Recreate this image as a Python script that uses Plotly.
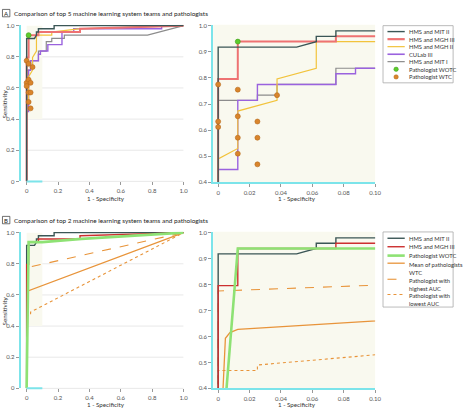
import plotly.graph_objects as go

W, H = 468, 416

# ---------------- data ----------------
# Panel A ROC curves (x = 1 - specificity, y = sensitivity)
mit2_x = [0, 0, 0.05, 0.0625, 0.0625, 0.075, 0.075, 0.175, 0.175, 1.0]
mit2_y = [0, 0.918, 0.918, 0.939, 0.959, 0.959, 0.98, 0.98, 1.0, 1.0]

mgh3_x = [0, 0, 0.0125, 0.0125, 0.075, 0.075, 0.34, 0.34, 1.0]
mgh3_y = [0, 0.796, 0.796, 0.939, 0.939, 0.959, 0.959, 0.98, 1.0]

mgh2_x = [0, 0, 0.0125, 0.0125, 0.0375, 0.0375, 0.0625, 0.0625, 0.16, 0.16, 0.33, 1.0]
mgh2_y = [0, 0.49, 0.53, 0.673, 0.714, 0.796, 0.837, 0.939, 0.939, 0.959, 0.98, 1.0]

cul3_x = [0, 0, 0.0125, 0.0125, 0.025, 0.025, 0.075, 0.075, 0.0875, 0.0875,
          0.135, 0.135, 0.225, 0.225, 0.3, 0.3, 0.86, 0.86, 1.0]
cul3_y = [0, 0.449, 0.449, 0.714, 0.714, 0.775, 0.775, 0.816, 0.816, 0.837,
          0.837, 0.878, 0.878, 0.959, 0.959, 0.98, 0.98, 1.0, 1.0]

mit1_x = [0, 0, 0.025, 0.025, 0.0375, 0.0375, 0.075, 0.075, 0.125, 0.125,
          0.16, 0.16, 0.24, 0.24, 0.77, 1.0]
mit1_y = [0, 0.714, 0.714, 0.734, 0.734, 0.775, 0.775, 0.837, 0.837, 0.898,
          0.898, 0.918, 0.918, 0.939, 0.939, 1.0]

wotc_pt_x = [0.0125]
wotc_pt_y = [0.939]

wtc_x = [0, 0.0125, 0.0375, 0, 0, 0.0125, 0.025, 0.0125, 0.025, 0.0125, 0.025]
wtc_y = [0.775, 0.755, 0.734, 0.633, 0.612, 0.653, 0.633, 0.571, 0.571, 0.510, 0.469]

# Panel B extra curves
wotc_x = [0, 0.0125, 0.1, 0.35, 1.0]
wotc_y = [0, 0.939, 0.939, 0.96, 1.0]

mean_x = [0, 0.0046, 0.0075, 0.0125, 1.0]
mean_y = [0, 0.593, 0.615, 0.627, 1.0]

high_x = [0, 0, 1.0]
high_y = [0, 0.775, 1.0]

low_x = [0, 0, 0.025, 0.025, 1.0]
low_y = [0, 0.469, 0.469, 0.49, 1.0]

full_ticks = [0, 0.2, 0.4, 0.6, 0.8, 1.0]
full_ticktext = ["0", "0.2", "0.4", "0.6", "0.8", "1.0"]
zoom_xticks = [0, 0.02, 0.04, 0.06, 0.08, 0.10]
zoom_xticktext = ["0", "0.02", "0.04", "0.06", "0.08", "0.10"]
zoom_yticks = [0.4, 0.5, 0.6, 0.7, 0.8, 0.9, 1.0]
zoom_yticktext = ["0.4", "0.5", "0.6", "0.7", "0.8", "0.9", "1.0"]

title_a = "Comparison of top 5 machine learning system teams and pathologists"
title_b = "Comparison of top 2 machine learning system teams and pathologists"

legend_a = ["HMS and MIT II", "HMS and MGH III", "HMS and MGH II", "CULab III",
            "HMS and MIT I", "Pathologist WOTC", "Pathologist WTC"]
legend_b = ["HMS and MIT II", "HMS and MGH III", "Pathologist WOTC",
            "Mean of pathologists<br>WTC", "Pathologist with<br>highest AUC",
            "Pathologist with<br>lowest AUC"]

# ---------------- styles ----------------
FONT = "Lato"
CYAN = "#7ce4ea"
CREAM = "#f9f9ef"
C_MIT2 = "#3b5656"
C_MGH3_A = "#ee7272"
C_MGH3_B = "#cc2f2f"
C_MGH2 = "#f2c33c"
C_CUL = "#9a62de"
C_MIT1 = "#8c8c8c"
C_GREEN = "#8ee274"
C_ORANGE = "#e8943a"
C_DOT = "#d9852c"
C_DOT_EDGE = "#b56a1c"
C_WOTC = "#5ccc2c"

fig = go.Figure()


def px(x):
    return x / W


def py(y):
    return 1 - y / H


def line(xs, ys, ax, color, width, dash="solid", opacity=1.0):
    fig.add_trace(go.Scatter(x=xs, y=ys, mode="lines", xaxis="x" + ax, yaxis="y" + ax,
                             line=dict(color=color, width=width, dash=dash),
                             opacity=opacity, showlegend=False, hoverinfo="skip"))


def pts(xs, ys, ax, color, edge, size):
    fig.add_trace(go.Scatter(x=xs, y=ys, mode="markers", xaxis="x" + ax, yaxis="y" + ax,
                             marker=dict(color=color, size=size, line=dict(color=edge, width=0.6)),
                             showlegend=False, hoverinfo="skip", cliponaxis=False))


# Panel A: axes "" (full) and "2" (zoom)
for ax in ["", "2"]:
    line(mit1_x, mit1_y, ax, C_MIT1, 1.2)
    line(cul3_x, cul3_y, ax, C_CUL, 1.4)
    line(mgh2_x, mgh2_y, ax, C_MGH2, 1.2)
    line(mgh3_x, mgh3_y, ax, C_MGH3_A, 2.0)
    line(mit2_x, mit2_y, ax, C_MIT2, 1.4)
    pts(wtc_x, wtc_y, ax, C_DOT, C_DOT_EDGE, 5)
    pts(wotc_pt_x, wotc_pt_y, ax, C_WOTC, "#3f9a1a", 5)

# Panel B: axes "3" (full) and "4" (zoom)
for ax in ["3", "4"]:
    line(low_x, low_y, ax, C_ORANGE, 1.1, dash="dot")
    line(high_x, high_y, ax, C_ORANGE, 1.1, dash="dash")
    line(mean_x, mean_y, ax, C_ORANGE, 1.3)
    line(mit2_x, mit2_y, ax, C_MIT2, 1.4)
    line(mgh3_x, mgh3_y, ax, C_MGH3_B, 1.4)
    line(wotc_x, wotc_y, ax, C_GREEN, 2.6)

tickfont = dict(family=FONT, size=6, color="#555")


def xax(dom, rng, tv, tt, showline):
    return dict(domain=[px(dom[0]), px(dom[1])], range=rng, tickvals=tv, ticktext=tt,
                ticks="outside", ticklen=3, tickwidth=0.8, tickcolor="#999",
                tickfont=tickfont, showgrid=False, zeroline=False,
                showline=showline, linecolor=CYAN, linewidth=2, fixedrange=True)


def yax(dom, rng, tv, tt):
    return dict(domain=[py(dom[0]), py(dom[1])], range=rng, tickvals=tv, ticktext=tt,
                ticks="outside", ticklen=3, tickwidth=0.8, tickcolor="#999",
                tickfont=tickfont, showgrid=False, zeroline=False,
                showline=True, linecolor=CYAN, linewidth=2, fixedrange=True)


full_xr = [-6 / 159, 1.0]
zoom_xr = [-5 / 1590, 0.1]
full_yr = [0, 1 + 1 / 158]
zoom_yr = [0.4, 1 + 1 / 265]

layout = dict(
    width=W, height=H, margin=dict(l=0, r=0, t=0, b=0),
    paper_bgcolor="white", plot_bgcolor="rgba(0,0,0,0)",
    font=dict(family=FONT, size=6, color="#333"),
    xaxis=xax((21, 186), full_xr, full_ticks, full_ticktext, False),
    yaxis=yax((181, 22), full_yr, full_ticks, full_ticktext),
    xaxis2=xax((216, 380), zoom_xr, zoom_xticks, zoom_xticktext, True),
    yaxis2=yax((182, 22), zoom_yr, zoom_yticks, zoom_yticktext),
    xaxis3=xax((21, 186), full_xr, full_ticks, full_ticktext, False),
    yaxis3=yax((391, 232), full_yr, full_ticks, full_ticktext),
    xaxis4=xax((216, 380), zoom_xr, zoom_xticks, zoom_xticktext, True),
    yaxis4=yax((391, 232), zoom_yr, zoom_yticks, zoom_yticktext),
)
layout["xaxis"]["anchor"] = "y"
layout["yaxis"]["anchor"] = "x"
layout["xaxis2"]["anchor"] = "y2"
layout["yaxis2"]["anchor"] = "x2"
layout["xaxis3"]["anchor"] = "y3"
layout["yaxis3"]["anchor"] = "x3"
layout["xaxis4"]["anchor"] = "y4"
layout["yaxis4"]["anchor"] = "x4"
fig.update_layout(**layout)

shapes = []
annotations = []

# backgrounds of zoom plots
for ax in ["2", "4"]:
    shapes.append(dict(type="rect", xref="x%s domain" % ax, yref="y%s domain" % ax,
                       x0=0, x1=1, y0=0, y1=1, fillcolor=CREAM, line=dict(width=0), layer="below"))

# gridlines and zoom region in full plots
for ax, ybot in [("", 181), ("3", 391)]:
    for g in [0.2, 0.4, 0.6, 0.8]:
        shapes.append(dict(type="line", xref="x" + ax, yref="y" + ax,
                           x0=0, x1=1, y0=g, y1=g, line=dict(color="#e2e2e2", width=0.8), layer="below"))
    shapes.append(dict(type="line", xref="x" + ax, yref="paper", x0=0, x1=1,
                       y0=py(ybot), y1=py(ybot), line=dict(color="#e2e2e2", width=0.8), layer="below"))
    shapes.append(dict(type="rect", xref="x" + ax, yref="y" + ax, x0=0, x1=0.1, y0=0.4, y1=1.0,
                       fillcolor=CREAM, line=dict(width=0), layer="below"))
    shapes.append(dict(type="line", xref="x" + ax, yref="paper", x0=0, x1=0.1,
                       y0=py(ybot), y1=py(ybot), line=dict(color=CYAN, width=2), layer="above"))

# panel labels and titles
for lab, ytop, title in [("A", 6.5, title_a), ("B", 216.5, title_b)]:
    shapes.append(dict(type="rect", xref="paper", yref="paper", x0=px(2.5), x1=px(10),
                       y0=py(ytop + 7.5), y1=py(ytop), line=dict(color="#333", width=0.7)))
    annotations.append(dict(x=px(6.3), y=py(ytop + 3.9), xref="paper", yref="paper", text=lab,
                            showarrow=False, xanchor="center", yanchor="middle",
                            font=dict(family=FONT, size=6, color="#222")))
    annotations.append(dict(x=px(12), y=py(ytop + 3.9), xref="paper", yref="paper", text=title,
                            showarrow=False, xanchor="left", yanchor="middle",
                            font=dict(family=FONT, size=6.4, color="#222")))

# axis titles
for xc, yc in [(107, 198), (301, 198), (107, 407.5), (301, 407.5)]:
    annotations.append(dict(x=px(xc), y=py(yc), xref="paper", yref="paper", text="1 - Specificity",
                            showarrow=False, xanchor="center", yanchor="middle",
                            font=dict(family=FONT, size=6.2, color="#333")))
for yc in [102, 312]:
    annotations.append(dict(x=px(5), y=py(yc), xref="paper", yref="paper", text="Sensitivity",
                            showarrow=False, xanchor="center", yanchor="middle", textangle=-90,
                            font=dict(family=FONT, size=6.2, color="#333")))

# legend A
shapes.append(dict(type="rect", xref="paper", yref="paper", x0=px(388), x1=px(459),
                   y0=py(81), y1=py(23), line=dict(color="#aaa", width=0.8), fillcolor="white"))
leg_a_y = [29, 36.7, 44.3, 52, 59.5, 67.2, 75]
leg_a_style = [(C_MIT2, 1.4), (C_MGH3_A, 2.2), (C_MGH2, 1.2), (C_CUL, 1.6), (C_MIT1, 1.2)]
for i, name in enumerate(legend_a):
    yy = leg_a_y[i]
    if i < 5:
        c, w = leg_a_style[i]
        shapes.append(dict(type="line", xref="paper", yref="paper", x0=px(392.5), x1=px(410),
                           y0=py(yy), y1=py(yy), line=dict(color=c, width=w)))
    else:
        c, e = (C_WOTC, "#3f9a1a") if i == 5 else (C_DOT, C_DOT_EDGE)
        shapes.append(dict(type="circle", xref="paper", yref="paper", x0=px(399), x1=px(403.5),
                           y0=py(yy + 2.2), y1=py(yy - 2.2), fillcolor=c, line=dict(color=e, width=0.5)))
    annotations.append(dict(x=px(412), y=py(yy), xref="paper", yref="paper", text=name,
                            showarrow=False, xanchor="left", yanchor="middle",
                            font=dict(family=FONT, size=5.8, color="#333")))

# legend B
shapes.append(dict(type="rect", xref="paper", yref="paper", x0=px(388), x1=px(459),
                   y0=py(308.5), y1=py(232.3), line=dict(color="#aaa", width=0.8), fillcolor="white"))
leg_b_y = [238.7, 247.3, 256.3, 264, 280.3, 295.7]
leg_b_style = [(C_MIT2, 1.4, "solid"), (C_MGH3_B, 1.4, "solid"), (C_GREEN, 2.6, "solid"),
               (C_ORANGE, 1.3, "solid"), (C_ORANGE, 1.1, "dash"), (C_ORANGE, 1.1, "dot")]
for i, name in enumerate(legend_b):
    yy = leg_b_y[i]
    c, w, d = leg_b_style[i]
    shapes.append(dict(type="line", xref="paper", yref="paper", x0=px(392.5), x1=px(410),
                       y0=py(yy), y1=py(yy), line=dict(color=c, width=w, dash=d)))
    if "<br>" in name:
        annotations.append(dict(x=px(412), y=py(yy - 4.0), xref="paper", yref="paper", text=name,
                                showarrow=False, xanchor="left", yanchor="top", align="left",
                                font=dict(family=FONT, size=5.8, color="#333")))
    else:
        annotations.append(dict(x=px(412), y=py(yy), xref="paper", yref="paper", text=name,
                                showarrow=False, xanchor="left", yanchor="middle",
                                font=dict(family=FONT, size=5.8, color="#333")))

fig.update_layout(shapes=shapes, annotations=annotations)
fig.write_html("out.html", config={"displayModeBar": False},
               post_script="document.body.style.margin='0';document.body.style.overflow='hidden';")
